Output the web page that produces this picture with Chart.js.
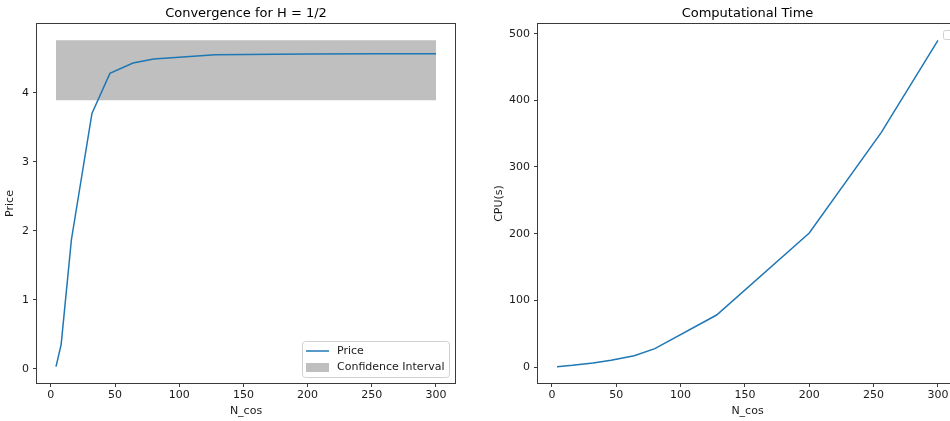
<!DOCTYPE html>
<html>
<head>
<meta charset="utf-8">
<script src="https://cdn.jsdelivr.net/npm/chart.js@4/dist/chart.umd.min.js"></script>
<style>
  html, body { margin: 0; padding: 0; background: #fff; overflow: hidden; width: 950px; height: 421px; }
  canvas { position: absolute; top: 0; }
  #chart-price { left: 0; }
  #chart-cpu { left: 475px; }
</style>
</head>
<body>
<canvas id="chart-price" width="475" height="421"></canvas>
<canvas id="chart-cpu" width="500" height="421"></canvas>
<script>
// values
const nCos = [4, 8, 16, 32, 46, 64, 80, 128, 200, 256, 300];
const price = [0.03, 0.35, 1.87, 3.70, 4.28, 4.43, 4.49, 4.55, 4.56, 4.565, 4.565];
const ciX = [4, 300];
const ciLower = [3.89, 3.89];
const ciUpper = [4.76, 4.76];
const cpuTime = [0.5, 1.2, 2.5, 6, 10, 17, 27.5, 78, 201, 352, 490];

const xTicksStep = 50;
const priceStep = 1;
const cpuStep = 100;

Chart.defaults.font.family = 'DejaVu Sans';
Chart.defaults.font.size = 11;
Chart.defaults.color = '#1a1a1a';

const BLUE = '#1f77b4';
const BAND = 'rgba(128,128,128,0.5)';

function pad(lo, hi) {
    const r = hi - lo;
    return [lo - 0.05 * r, hi + 0.05 * r];
}
function pts(xs, ys) {
    return xs.map((x, i) => ({x: x, y: ys[i]}));
}

// black frame round the plot like matplotlib spines
const framePlugin = {
    id: 'frame',
    afterDraw(chart) {
        const a = chart.chartArea, ctx = chart.ctx;
        ctx.save();
        ctx.strokeStyle = '#3a3a3a';
        ctx.lineWidth = 1;
        ctx.strokeRect(Math.round(a.left) - 0.5, Math.round(a.top) - 0.5,
            Math.round(a.right - a.left) + 1, Math.round(a.bottom - a.top) + 1);
        ctx.restore();
    }
};

function roundBox(ctx, x, y, w, h, r) {
    ctx.beginPath();
    ctx.moveTo(x + r, y);
    ctx.lineTo(x + w - r, y);
    ctx.quadraticCurveTo(x + w, y, x + w, y + r);
    ctx.lineTo(x + w, y + h - r);
    ctx.quadraticCurveTo(x + w, y + h, x + w - r, y + h);
    ctx.lineTo(x + r, y + h);
    ctx.quadraticCurveTo(x, y + h, x, y + h - r);
    ctx.lineTo(x, y + r);
    ctx.quadraticCurveTo(x, y, x + r, y);
    ctx.closePath();
}

const priceLegend = {
    id: 'priceLegend',
    afterDraw(chart) {
        const ctx = chart.ctx;
        ctx.save();
        roundBox(ctx, 302.5, 341.5, 147, 36, 3);
        ctx.fillStyle = 'rgba(255,255,255,0.8)';
        ctx.fill();
        ctx.strokeStyle = '#d0d0d0';
        ctx.lineWidth = 1;
        ctx.stroke();
        ctx.strokeStyle = BLUE;
        ctx.lineWidth = 1.5;
        ctx.beginPath();
        ctx.moveTo(306, 351);
        ctx.lineTo(329, 351);
        ctx.stroke();
        ctx.fillStyle = BAND;
        ctx.fillRect(306, 363, 23, 9);
        ctx.fillStyle = '#1a1a1a';
        ctx.font = '11px "DejaVu Sans"';
        ctx.textBaseline = 'middle';
        ctx.fillText('Price', 337, 351);
        ctx.fillText('Confidence Interval', 337, 367);
        ctx.restore();
    }
};

const cpuLegend = {
    id: 'cpuLegend',
    afterDraw(chart) {
        const ctx = chart.ctx;
        ctx.save();
        roundBox(ctx, 468.5, 30.5, 20, 9, 2);
        ctx.fillStyle = 'rgba(255,255,255,0.8)';
        ctx.fill();
        ctx.strokeStyle = '#d0d0d0';
        ctx.stroke();
        ctx.restore();
    }
};

function tickGrid() {
    return { drawOnChartArea: false, drawTicks: true, tickLength: 4, tickColor: '#3a3a3a' };
}

function makeChart(id, datasets, yRange, yStep, yLabel, yWidth, yTitlePad, title, rightPad, plugins) {
    const xRange = pad(Math.min(...nCos), Math.max(...nCos));
    return new Chart(document.getElementById(id).getContext('2d'), {
        type: 'line',
        data: { datasets: datasets },
        options: {
            responsive: false,
            animation: false,
            layout: { padding: { left: 0, right: rightPad, top: 0, bottom: 0 } },
            plugins: {
                legend: { display: false },
                tooltip: { enabled: false }
            },
            elements: { point: { radius: 0 }, line: { tension: 0 } },
            scales: {
                x: {
                    type: 'linear',
                    position: 'bottom',
                    min: xRange[0],
                    max: xRange[1],
                    grid: tickGrid(),
                    border: { display: false },
                    ticks: { stepSize: xTicksStep, includeBounds: false, padding: 1.5, maxRotation: 0 },
                    title: { display: true, text: 'N_cos', padding: { top: 0, bottom: 3.5 } },
                    afterFit(s) { s.height = 38; }
                },
                top: {
                    type: 'linear',
                    position: 'top',
                    grid: { display: false },
                    border: { display: false },
                    ticks: { display: false },
                    title: { display: true, text: title, font: { size: 13 }, color: '#000', padding: { top: 5.5, bottom: 0 } },
                    afterFit(s) { s.height = 24; }
                },
                y: {
                    min: yRange[0],
                    max: yRange[1],
                    grid: tickGrid(),
                    border: { display: false },
                    ticks: { stepSize: yStep, includeBounds: false, padding: 4 },
                    title: { display: true, text: yLabel, padding: { top: yTitlePad, bottom: 0 } },
                    afterFit(s) { s.width = yWidth; }
                }
            }
        },
        plugins: plugins
    });
}

makeChart('chart-price', [
    { label: 'Price', data: pts(nCos, price), borderColor: BLUE, borderWidth: 1.5, fill: false },
    { label: 'ci-low', data: pts(ciX, ciLower), borderWidth: 0, borderColor: 'rgba(0,0,0,0)', fill: false },
    { label: 'Confidence Interval', data: pts(ciX, ciUpper), borderWidth: 0, borderColor: 'rgba(0,0,0,0)', backgroundColor: BAND, fill: '-1' }
], pad(Math.min(...price), Math.max(...ciUpper)), priceStep, 'Price', 37, 3.4, 'Convergence for H = 1/2', 20, [framePlugin, priceLegend]);

makeChart('chart-cpu', [
    { label: 'CPU', data: pts(nCos, cpuTime), borderColor: BLUE, borderWidth: 1.5, fill: false }
], pad(Math.min(...cpuTime), Math.max(...cpuTime)), cpuStep, 'CPU(s)', 63, 17.4, 'Computational Time', 18, [framePlugin, cpuLegend]);
</script>
</body>
</html>
